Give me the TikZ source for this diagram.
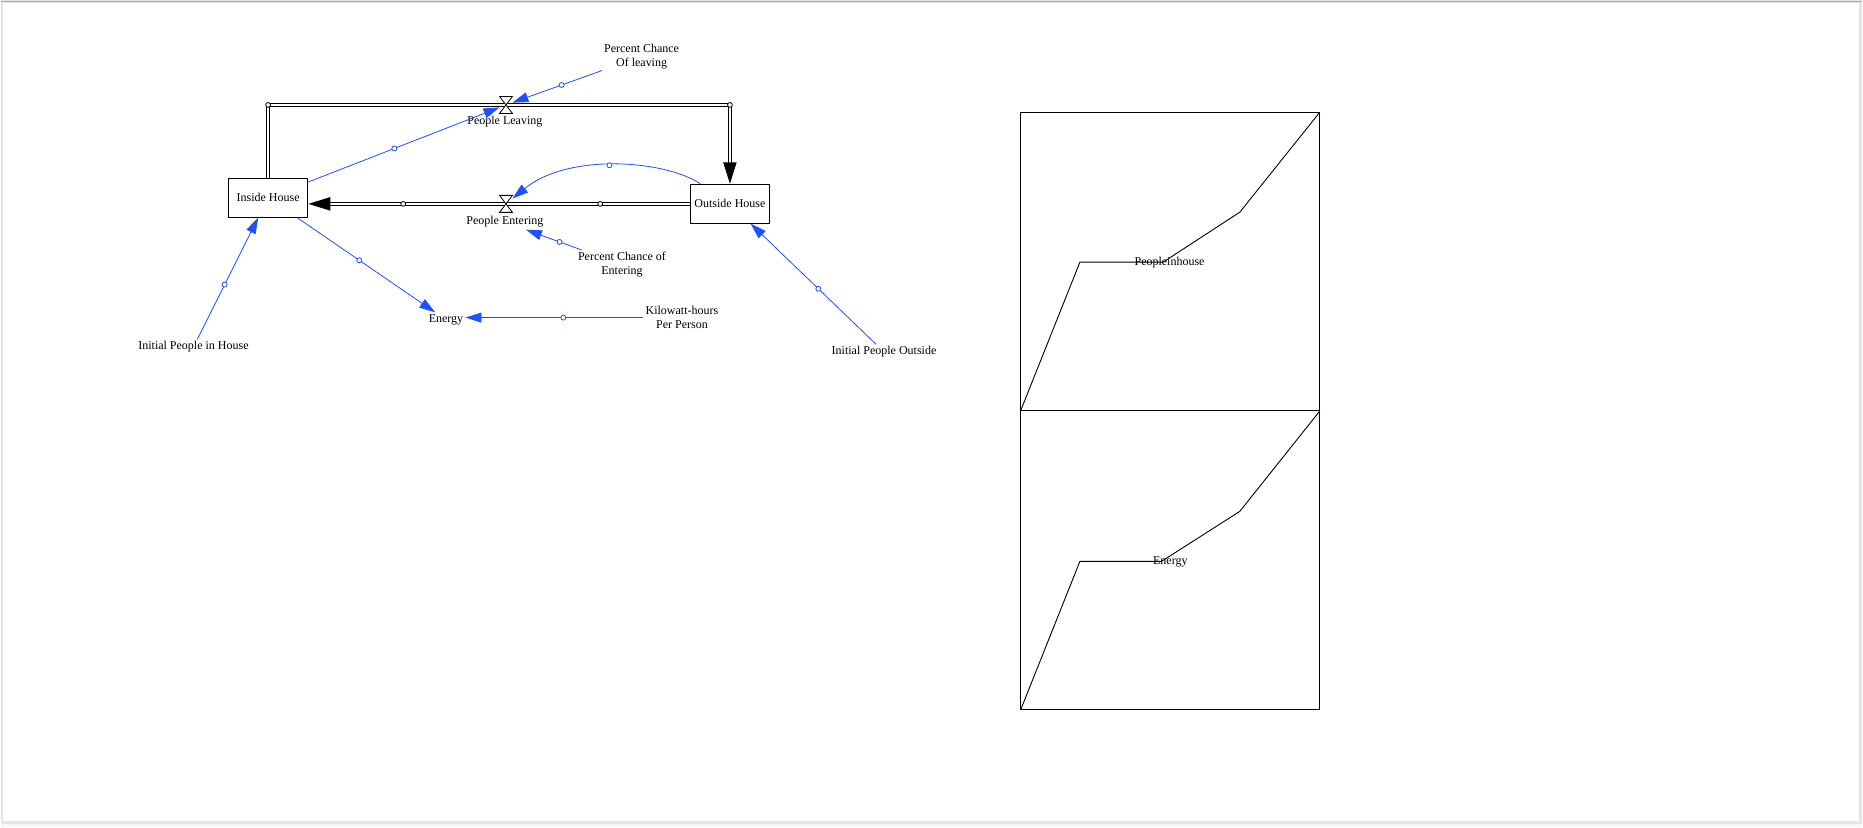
\documentclass[tikz,border=0pt]{standalone}
\usepackage{fontspec}
\setmainfont{Liberation Serif}
\usetikzlibrary{arrows.meta,calc}
\definecolor{linkblue}{RGB}{30,80,255}
\definecolor{edgegray}{RGB}{230,230,230}
\definecolor{topgray}{RGB}{168,168,168}
\definecolor{outergray}{RGB}{246,246,246}
\begin{document}
\begin{tikzpicture}[x=1pt,y=-1pt,
  every node/.style={font=\fontsize{12}{13.7}\selectfont},
  stock/.style={draw, line width=0.9pt, minimum width=79.5pt, minimum height=39pt, inner sep=0pt, fill=white},
  lab/.style={align=center, inner sep=2pt},
  valvebox/.style={minimum width=12.5pt, minimum height=16.6pt, inner sep=0pt},
  valveshape/.style={draw, line width=0.8pt, fill=white, line join=miter},
  pipe/.style={draw, line width=0.9pt, double=white, double distance=2.2pt},
  link/.style={draw=linkblue, line width=0.8pt, -{Triangle[length=16pt,width=10pt]}},
  bdot/.style={circle, draw=linkblue, fill=white, line width=0.8pt, minimum size=5pt, inner sep=0pt},
  pdot/.style={circle, draw=black, fill=white, line width=0.8pt, minimum size=4.8pt, inner sep=0pt},
  graphline/.style={line width=0.9pt, line join=miter}
]
% page frame
\fill[outergray] (0,0) rectangle (1863,828);
\fill[edgegray] (0,0) rectangle (1863,825);
\fill[white] (2,3) rectangle (1859.5,821.5);
\draw[topgray, line width=1.2pt] (0,1.8) -- (1863,1.8);

% stocks
\node[stock] (IH) at (267.7,197.8) {Inside House};
\node[stock] (OH) at (729.8,203.8) {Outside House};

% valves and their labels
\node[valvebox] (PLv) at (505.7,105) {};
\node[valvebox] (PEv) at (505.7,204) {};
\node[lab] (PLl) at (504.6,122.2) {People Leaving};
\node[lab] (PEl) at (504.6,222.2) {People Entering};

% variables
\node[lab] (PCL) at (641.4,56.4) {Percent Chance\\Of leaving};
\node[lab] (PCE) at (621.8,264.8) {Percent Chance of\\Entering};
\node[lab] (KWH) at (681.8,317.8) {Kilowatt-hours\\Per Person};
\node[lab] (EN) at (445.7,320) {Energy};
\node[lab] (IPH) at (193,347.2) {Initial People in House};
\node[lab] (IPO) at (884,352.2) {Initial People Outside};

% flows (pipes)
\draw[pipe] (IH.north) -- (IH.north |- PLv) -- (OH.north |- PLv) -- ($(OH.north)+(0,-21)$);
\fill (OH.north) -- ++(-6.8,-21.5) -- ++(13.6,0) -- cycle;
\draw[pipe] (OH.west |- PEv) -- ($(IH.east |- PEv)+(22,0)$);
\fill (IH.east |- PEv) -- ++(22,-6.8) -- ++(0,13.6) -- cycle;

\node[pdot] (pc1) at (IH.north |- PLv) {};
\node[pdot] (pc2) at (OH.north |- PLv) {};
\node[pdot] (pe1) at (402.9,204) {};
\node[pdot] (pe2) at (600,204) {};

\draw[valveshape] (PLv.north west) -- (PLv.north east) -- (PLv.south west) -- (PLv.south east) -- cycle;
\draw[valveshape] (PEv.north west) -- (PEv.north east) -- (PEv.south west) -- (PEv.south east) -- cycle;

% links
\draw[link] (PCL) -- node[bdot,pos=0.45] (d1) {} (PLv);
\draw[link] (IH) -- node[bdot,pos=0.45] (d2) {} (PLv);
\draw[link] (IH) -- node[bdot,pos=0.45] (d3) {} (EN);
\draw[link] (KWH.west) -- node[bdot,pos=0.45] (d4) {} (KWH.west -| EN.east);
\draw[link] (PCE) -- node[bdot,pos=0.4] (d5) {} (PEl);
\draw[link] (IPH) -- node[bdot,pos=0.45] (d6) {} (IH);
\draw[link] (IPO) -- node[bdot,pos=0.46] (d7) {} (OH);
\draw[link] ([xshift=10.6pt]OH.north west) .. controls (664,160) and (568,153) .. (PEv) node[bdot,pos=0.52] (d8) {};

% graphs
\draw[graphline] (1020.7,112.3) rectangle (1320,411);
\draw[graphline] (1020.7,411) rectangle (1320,710.3);
\draw[graphline] (1020.7,411) -- (1080,262.3) -- (1163.3,262.3) -- (1240,212.3) -- (1320,112.3);
\node (G1) at (1169.7,262.9) {Peopleinhouse};
\draw[graphline] (1020.7,710.3) -- (1080,561.7) -- (1161.7,561.7) -- (1240,511.7) -- (1320,411.3);
\node (G2) at (1170.5,562.4) {Energy};
\end{tikzpicture}
\end{document}
